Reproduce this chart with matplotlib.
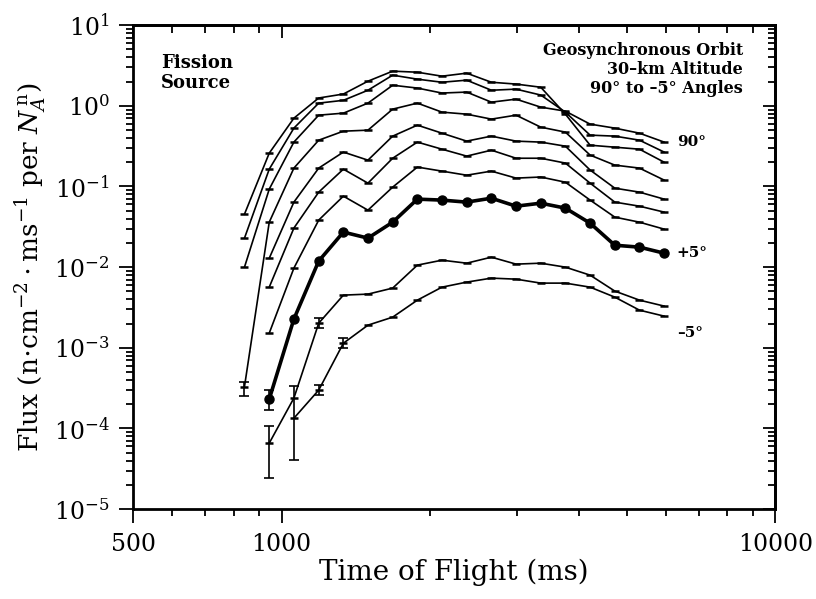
import matplotlib
matplotlib.use("Agg")
import matplotlib.pyplot as plt
from matplotlib.ticker import LogLocator, NullFormatter, FixedLocator

plt.rcParams['font.family'] = 'DejaVu Serif'
plt.rcParams['mathtext.fontset'] = 'dejavuserif'

# time of flight grid (ms)
times = [841, 944, 1059, 1189, 1334, 1496, 1679, 1884, 2113, 2371,
         2661, 2985, 3350, 3758, 4217, 4732, 5309, 5957]

# flux curves, top to bottom; first index into times where each starts
flux_a = [0.0454, 0.259, 0.703, 1.25, 1.40, 2.02, 2.69, 2.61, 2.33, 2.54,
          1.96, 1.86, 1.70, 0.788, 0.325, 0.307, 0.290, 0.200]
flux_b = [0.0229, 0.164, 0.529, 1.08, 1.17, 1.56, 2.40, 2.14, 1.96, 2.08,
          1.56, 1.61, 1.36, 0.835, 0.433, 0.421, 0.375, 0.267]
flux_c = [0.0100, 0.0927, 0.355, 0.766, 0.811, 1.08, 1.80, 1.66, 1.44, 1.48,
          1.11, 1.21, 0.963, 0.859, 0.593, 0.529, 0.458, 0.355]
flux_d = [0.00033, 0.0361, 0.169, 0.375, 0.485, 0.499, 0.910, 1.08, 0.835, 0.788,
          0.684, 0.766, 0.544, 0.472, 0.245, 0.184, 0.169, 0.120]
flux_e = [0.0129, 0.0640, 0.169, 0.267, 0.212, 0.421, 0.576, 0.458, 0.365,
          0.421, 0.365, 0.355, 0.316, 0.160, 0.0953, 0.0851, 0.0697]
flux_f = [0.00565, 0.0305, 0.0851, 0.164, 0.110, 0.224, 0.355, 0.290, 0.238,
          0.282, 0.224, 0.224, 0.195, 0.110, 0.0640, 0.0570, 0.0481]
flux_g = [0.00152, 0.00972, 0.0383, 0.0759, 0.0509, 0.0982, 0.174, 0.155, 0.138,
          0.155, 0.127, 0.131, 0.113, 0.0678, 0.0417, 0.0361, 0.0296]
flux_p5 = [0.000231, 0.00227, 0.0119, 0.0272, 0.0229, 0.0361, 0.0697, 0.0678, 0.0640,
           0.0716, 0.0570, 0.0621, 0.0539, 0.0351, 0.0187, 0.0177, 0.0149]
flux_h = [0.0000658, 0.000238, 0.00202, 0.00450, 0.00463, 0.00550, 0.0106, 0.0122,
          0.0112, 0.0133, 0.0109, 0.0112, 0.0100, 0.00796, 0.00505, 0.00390, 0.00329]
flux_m5 = [0.000134, 0.000299, 0.00114, 0.00191, 0.00240, 0.00390, 0.00565, 0.00652,
           0.00731, 0.00710, 0.00634, 0.00634, 0.00565, 0.00425, 0.00293, 0.00247]

thin_curves = [(flux_a, 0), (flux_b, 0), (flux_c, 0), (flux_d, 0),
               (flux_e, 1), (flux_f, 1), (flux_g, 1), (flux_h, 1), (flux_m5, 2)]
bold_curve = (flux_p5, 1)

# error bars on the early points: (time index, value, low, high)
err_points = [(0, 0.00033, 0.00025, 0.00038),
              (1, 0.000231, 0.000169, 0.000299),
              (1, 0.0000658, 0.0000243, 0.000107),
              (2, 0.000134, 0.0000405, 0.000335),
              (3, 0.000299, 0.000259, 0.000344),
              (4, 0.00114, 0.00099, 0.00132),
              (3, 0.00202, 0.00175, 0.00233)]

fig = plt.figure(figsize=(8.16, 5.99), dpi=100)
ax = fig.add_axes([0.163, 0.150, 0.787, 0.808])

for vals, start in thin_curves:
    ax.plot(times[start:start + len(vals)], vals, color='black', lw=1.2,
            marker='_', ms=6, mew=1.8)

vals, start = bold_curve
ax.plot(times[start:start + len(vals)], vals, color='black', lw=2.6,
        marker='o', ms=6.5)

for i, v, lo, hi in err_points:
    ax.errorbar([times[i]], [v], yerr=[[v - lo], [hi - v]], fmt='none',
                ecolor='black', elinewidth=1.2, capsize=3.5, capthick=1.2)

ax.set_xscale('log')
ax.set_yscale('log')
ax.set_xlim(500, 10000)
ax.set_ylim(1e-5, 10)

ax.xaxis.set_major_locator(FixedLocator([500, 1000, 10000]))
ax.set_xticklabels(['500', '1000', '10000'])
ax.xaxis.set_minor_locator(LogLocator(base=10, subs=range(2, 10), numticks=20))
ax.xaxis.set_minor_formatter(NullFormatter())
ax.yaxis.set_major_locator(LogLocator(base=10, numticks=20))
ax.yaxis.set_minor_locator(LogLocator(base=10, subs=range(2, 10), numticks=20))
ax.yaxis.set_minor_formatter(NullFormatter())

ax.tick_params(which='both', direction='out', labelsize=17, width=1.3)
ax.tick_params(which='major', length=10, pad=7)
ax.tick_params(which='minor', length=5)
for s in ax.spines.values():
    s.set_linewidth(2)

# top and right ticks point inward
top = ax.secondary_xaxis('top')
top.xaxis.set_major_locator(FixedLocator([500, 1000, 10000]))
top.xaxis.set_minor_locator(LogLocator(base=10, subs=range(2, 10), numticks=20))
top.tick_params(which='both', direction='in', labeltop=False, width=1.3)
top.tick_params(which='major', length=9)
top.tick_params(which='minor', length=6)
top.spines['top'].set_linewidth(2)
right = ax.secondary_yaxis('right')
right.yaxis.set_major_locator(LogLocator(base=10, numticks=20))
right.yaxis.set_minor_locator(LogLocator(base=10, subs=range(2, 10), numticks=20))
right.tick_params(which='both', direction='in', labelright=False, width=1.3)
right.tick_params(which='major', length=9)
right.tick_params(which='minor', length=5)
right.spines['right'].set_linewidth(2)

ax.set_xlabel('Time of Flight (ms)', fontsize=20, labelpad=2)
ax.set_ylabel(r'Flux (n$\cdot$cm$^{-2}\cdot$ms$^{-1}$ per $N_A^{\,\mathrm{n}}$)',
              fontsize=19, labelpad=4)

ax.text(0.044, 0.94, 'Fission\nSource', transform=ax.transAxes, fontsize=13,
        fontweight='bold', va='top', ha='left', linespacing=1.15)
ax.text(0.95, 0.965, 'Geosynchronous Orbit\n30–km Altitude\n90° to –5° Angles',
        transform=ax.transAxes, fontsize=11.5, fontweight='bold', va='top',
        ha='right', linespacing=1.15)

ax.annotate('90°', xy=(times[-1], flux_c[-1]), xytext=(9, 0),
            textcoords='offset points', fontsize=11, fontweight='bold', va='center')
ax.annotate('+5°', xy=(times[-1], flux_p5[-1]), xytext=(9, 0),
            textcoords='offset points', fontsize=11, fontweight='bold', va='center')
ax.annotate('–5°', xy=(times[-1], flux_m5[-1]), xytext=(9, -12),
            textcoords='offset points', fontsize=11, fontweight='bold', va='center')

fig.savefig('out.png', dpi=100)
